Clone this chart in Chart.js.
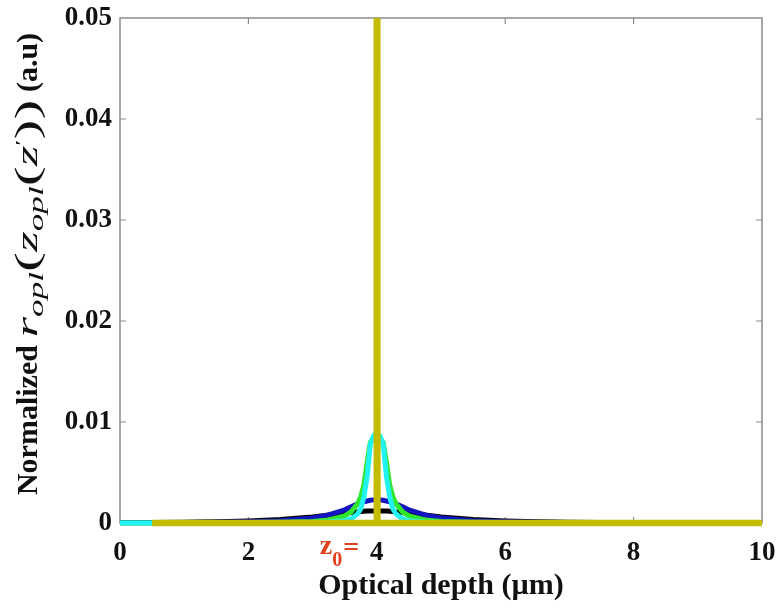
<!DOCTYPE html>
<html>
<head>
<meta charset="utf-8">
<script src="https://cdn.jsdelivr.net/npm/chart.js@4"></script>
<style>
  html, body { margin: 0; padding: 0; background: #ffffff; }
  #wrap { width: 779px; height: 610px; }
</style>
</head>
<body>
<div id="wrap"><canvas id="depthChart" width="779" height="610"></canvas></div>
<script>
// optical depth samples (um), denser around the focus z0 = 4
const depth = [0, 0.5, 1, 1.5, 2, 2.5, 3, 3.25, 3.5, 3.6, 3.7, 3.75, 3.8, 3.85, 3.9, 3.95, 4,
    4.05, 4.1, 4.15, 4.2, 4.25, 4.3, 4.4, 4.5, 4.75, 5, 5.5, 6, 6.5, 7, 7.5, 8, 8.5, 9, 9.5, 10];

const blackValues = [0.00004, 0.00005, 0.00008, 0.00012, 0.0002, 0.00035, 0.0006, 0.0008, 0.001, 0.00105,
    0.0011, 0.00113, 0.00116, 0.00118, 0.00119, 0.0012, 0.0012, 0.0012, 0.00119, 0.00118, 0.00116, 0.00113,
    0.0011, 0.00105, 0.001, 0.0008, 0.0006, 0.00035, 0.0002, 0.00012, 0.00008, 0.00005, 0.00004, 0.00003,
    0.00002, 0.00002, 0.00001];
const blueValues = [0.00002, 0.00003, 0.00004, 0.00007, 0.00012, 0.00022, 0.0005, 0.0008, 0.0013, 0.0016,
    0.0019, 0.002, 0.0021, 0.00218, 0.00225, 0.00229, 0.0023, 0.00229, 0.00225, 0.00218, 0.0021, 0.002,
    0.0019, 0.0016, 0.0013, 0.0008, 0.0005, 0.00022, 0.00012, 0.00007, 0.00004, 0.00003, 0.00002, 0.00002,
    0.00001, 0.00001, 0.00001];
const greenValues = [0, 0.00001, 0.00002, 0.00002, 0.00004, 0.00007, 0.00016, 0.0003, 0.0007, 0.0011,
    0.0019, 0.0026, 0.0038, 0.006, 0.008, 0.0084, 0.0086, 0.0084, 0.008, 0.006, 0.0038, 0.0026, 0.0019,
    0.0011, 0.0007, 0.0003, 0.00016, 0.00007, 0.00004, 0.00002, 0.00002, 0.00001, 0.00001, 0, 0, 0, 0];
const cyanValues = [0, 0, 0, 0, 0, 0.00002, 0.00005, 0.0001, 0.00022, 0.0004, 0.0009, 0.0014, 0.0026,
    0.0046, 0.0078, 0.0086, 0.009, 0.0086, 0.0078, 0.0046, 0.0026, 0.0014, 0.0009, 0.0004, 0.00022, 0.0001,
    0.00005, 0.00002, 0, 0, 0, 0, 0, 0, 0, 0, 0];

// the narrowest response is a spike at z0
const yellowDepth = [0.5, 3.99, 4, 4.01, 10];
const yellowValues = [0, 0, 0.2, 0, 0];

const xTicks = [0, 2, 4, 6, 8, 10];
const yTicks = [0, 0.01, 0.02, 0.03, 0.04, 0.05];

function points(xs, ys) {
    return xs.map((x, i) => ({ x, y: ys[i] }));
}

const serif = "'Liberation Serif', 'Times New Roman', serif";
const axisGray = "#8a8a8a";

function measureRuns(ctx, runs) {
    let total = 0;
    runs.forEach((r) => {
        ctx.font = r.f;
        r.w = ctx.measureText(r.t).width;
        total += r.w;
    });
    return total;
}

function drawRuns(ctx, runs, start) {
    let u = start;
    runs.forEach((r) => {
        ctx.font = r.f;
        ctx.fillText(r.t, u, r.dy);
        u += r.w;
    });
    return u;
}

const frameAndLabels = {
    id: "frameAndLabels",
    beforeDatasetsDraw(chart) {
        const { ctx, chartArea: a, scales } = chart;
        ctx.save();
        ctx.strokeStyle = axisGray;
        ctx.lineWidth = 1.5;
        ctx.strokeRect(a.left, a.top, a.right - a.left, a.bottom - a.top);
        ctx.lineWidth = 1.2;
        ctx.beginPath();
        xTicks.slice(1, -1).forEach((v) => {
            const px = scales.x.getPixelForValue(v);
            ctx.moveTo(px, a.bottom);
            ctx.lineTo(px, a.bottom - 6);
            ctx.moveTo(px, a.top);
            ctx.lineTo(px, a.top + 6);
        });
        yTicks.slice(1, -1).forEach((v) => {
            const py = scales.y.getPixelForValue(v);
            ctx.moveTo(a.left, py);
            ctx.lineTo(a.left + 6, py);
            ctx.moveTo(a.right, py);
            ctx.lineTo(a.right - 6, py);
        });
        ctx.stroke();
        ctx.restore();
    },
    afterDraw(chart) {
        const { ctx, chartArea: a, scales } = chart;
        ctx.save();
        ctx.fillStyle = "#111";

        // x axis title
        ctx.font = "bold 30px " + serif;
        ctx.textAlign = "center";
        ctx.textBaseline = "alphabetic";
        ctx.fillText("Optical depth (\u00b5m)", (a.left + a.right) / 2, 594);

        // red z0= marker next to the 4 tick
        const x4 = scales.x.getPixelForValue(4);
        ctx.fillStyle = "#e0401c";
        ctx.textAlign = "left";
        let cx = x4 - 57;
        ctx.font = "bold 28px " + serif;
        ctx.fillText("z", cx, 554);
        cx += ctx.measureText("z").width;
        ctx.font = "bold 20px " + serif;
        ctx.fillText("0", cx, 566);
        cx += ctx.measureText("0").width + 1;
        ctx.font = "bold 28px " + serif;
        ctx.fillText("=", cx, 556);

        // y axis title, rotated, with subscripts
        const word = [{ t: "Normalized ", f: "bold 30px " + serif, dy: 0 }];
        const math = [
            { t: "r", f: "italic 30px " + serif, dy: 0 },
            { t: "opl", f: "italic 20px " + serif, dy: 6 },
            { t: "(", f: "34px " + serif, dy: 1 },
            { t: "z", f: "italic 30px " + serif, dy: 0 },
            { t: "opl", f: "italic 20px " + serif, dy: 6 },
            { t: "(", f: "34px " + serif, dy: 1 },
            { t: "z", f: "italic 30px " + serif, dy: 0 },
            { t: "\u2032", f: "16px " + serif, dy: -10 },
            { t: "))", f: "34px " + serif, dy: 1 },
        ];
        const unit = [{ t: " (a.u)", f: "bold 30px " + serif, dy: 0 }];
        const wWord = measureRuns(ctx, word);
        const wMath = measureRuns(ctx, math);
        const wUnit = measureRuns(ctx, unit);
        const mathLen = 238;
        const total = wWord + mathLen + wUnit;

        ctx.fillStyle = "#111";
        ctx.translate(37, 264);
        ctx.rotate(-Math.PI / 2);
        let u = drawRuns(ctx, word, -total / 2);
        ctx.save();
        ctx.translate(u, 0);
        ctx.scale(mathLen / wMath, 1);
        drawRuns(ctx, math, 0);
        ctx.restore();
        drawRuns(ctx, unit, u + mathLen);
        ctx.restore();
    },
};

function line(label, data, color, width) {
    return {
        label,
        data,
        borderColor: color,
        backgroundColor: color,
        borderWidth: width,
        pointRadius: 0,
        tension: 0,
        fill: false,
        clip: { left: 0, top: 0, right: 0, bottom: 5 },
    };
}

new Chart(document.getElementById("depthChart"), {
    type: "line",
    data: {
        // first dataset is painted on top
        datasets: [
            line("yellow", points(yellowDepth, yellowValues), "#c4bc00", 6.5),
            line("cyan", points(depth, cyanValues), "#22f2f2", 5),
            line("green", points(depth, greenValues), "#2ee82e", 5),
            line("blue", points(depth, blueValues), "#1414c0", 5),
            line("black", points(depth, blackValues), "#000000", 5),
        ],
    },
    options: {
        responsive: false,
        animation: false,
        devicePixelRatio: 1,
        layout: { padding: { top: 18, right: 17, left: 0, bottom: 0 } },
        plugins: { legend: { display: false }, tooltip: { enabled: false } },
        scales: {
            x: {
                type: "linear",
                min: 0,
                max: 10,
                grid: { display: false },
                border: { display: false },
                afterBuildTicks(scale) {
                    scale.ticks = xTicks.map((value) => ({ value }));
                },
                ticks: {
                    color: "#111",
                    padding: 6,
                    maxRotation: 0,
                    font: { family: serif, size: 27, weight: "bold" },
                },
                afterFit(scale) {
                    scale.height = 87;
                    scale.paddingLeft = 0;
                    scale.paddingRight = 0;
                },
            },
            y: {
                type: "linear",
                min: 0,
                max: 0.05,
                grid: { display: false },
                border: { display: false },
                afterBuildTicks(scale) {
                    scale.ticks = yTicks.map((value) => ({ value }));
                },
                ticks: {
                    color: "#111",
                    padding: 0,
                    font: { family: serif, size: 27, weight: "bold" },
                    callback(value) {
                        return value === 0 ? "0" : value.toFixed(2);
                    },
                },
                afterFit(scale) {
                    scale.width = 120;
                    scale.paddingTop = 0;
                    scale.paddingBottom = 0;
                },
            },
        },
    },
    plugins: [frameAndLabels],
});
</script>
</body>
</html>
